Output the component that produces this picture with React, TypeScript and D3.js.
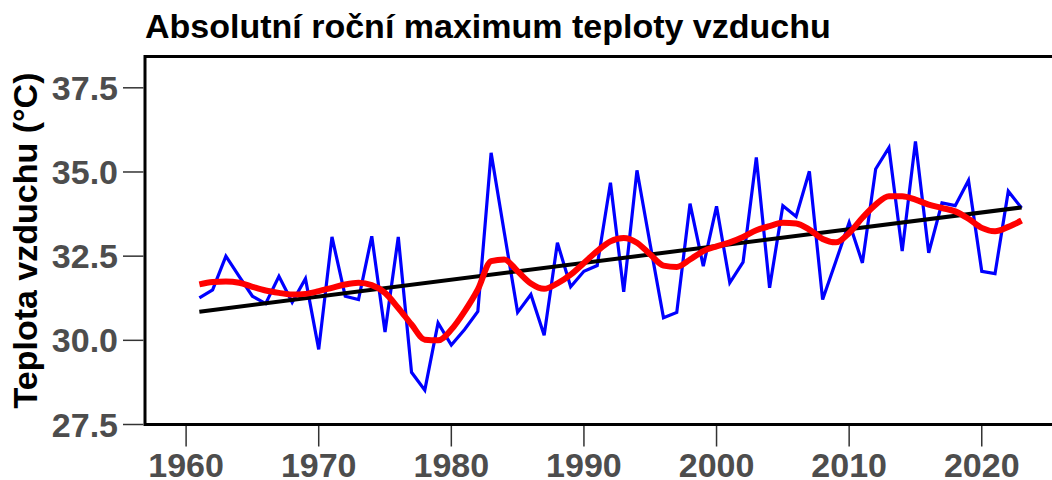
import React, { useEffect, useRef } from 'react';
import * as d3 from 'd3';

// Absolute annual maximum air temperature, 1961-2023
const years: number[] = d3.range(1961, 2024);

const tmax: number[] = [
  31.26, 31.5, 32.5, 31.9, 31.31, 31.09, 31.9, 31.13, 31.83, 29.73,
  33.07, 31.31, 31.21, 33.09, 30.25, 33.07, 29.05, 28.52, 30.52, 29.86,
  30.32, 30.86, 35.57, 33.19, 30.83, 31.36, 30.15, 32.9, 31.59, 32.05,
  32.22, 34.68, 31.44, 35.05, 32.84, 30.67, 30.83, 34.06, 32.2, 33.98,
  31.71, 32.32, 35.43, 31.56, 34.0, 33.68, 35.02, 31.21, 32.35, 33.5,
  32.3, 35.09, 35.72, 32.65, 35.91, 32.6, 34.08, 34.0, 34.75, 32.05,
  31.98, 34.43, 33.93,
];

// smoothed curve
const smooth: number[] = [
  31.66, 31.73, 31.75, 31.71, 31.59, 31.48, 31.41, 31.36, 31.38, 31.46,
  31.56, 31.66, 31.71, 31.64, 31.41, 30.96, 30.47, 30.02, 30.0, 30.32,
  30.86, 31.51, 32.35, 32.4, 32.05, 31.69, 31.53, 31.69, 31.95, 32.3,
  32.65, 32.94, 33.04, 32.9, 32.55, 32.22, 32.18, 32.4, 32.65, 32.79,
  32.91, 33.07, 33.27, 33.39, 33.49, 33.47, 33.29, 33.01, 32.91, 33.19,
  33.64, 34.03, 34.28, 34.28, 34.18, 34.03, 33.93, 33.83, 33.61, 33.34,
  33.24, 33.37, 33.56,
];

const xTicks: number[] = [1960, 1970, 1980, 1990, 2000, 2010, 2020];
const yTicks: number[] = [27.5, 30.0, 32.5, 35.0, 37.5];

const title = 'Absolutní roční maximum teploty vzduchu';
const yLabel = 'Teplota vzduchu (°C)';

const App = () => {
  const svgRef = useRef<SVGSVGElement>(null);
  const width = 1052;
  const height = 480;

  useEffect(() => {
    const svg = d3.select(svgRef.current);
    svg.selectAll('*').remove();

    const font = '"Liberation Sans", Arial, sans-serif';
    const left = 145, right = 1060, top = 56.5, bottom = 424.5;

    const x = d3.scaleLinear().domain([1956.9, 2025.9]).range([left, right]);
    const y = d3.scaleLinear().domain([27.5, 38.43]).range([bottom, top]);

    const pts = years.map((yr, i) => ({ yr, v: tmax[i], s: smooth[i] }));

    // least squares trend
    const mx = d3.mean(years)!;
    const my = d3.mean(tmax)!;
    const slope =
      d3.sum(pts, d => (d.yr - mx) * (d.v - my)) / d3.sum(pts, d => (d.yr - mx) ** 2);
    const trend = (yr: number) => my + slope * (yr - mx);

    // panel box
    svg.append('rect')
      .attr('x', left)
      .attr('y', top)
      .attr('width', right - left)
      .attr('height', bottom - top)
      .attr('fill', 'white')
      .attr('stroke', 'black')
      .attr('stroke-width', 3);

    // ticks + labels
    const tickColor = '#333';
    const labColor = '#4d4d4d';

    svg.append('g').selectAll('line')
      .data(yTicks)
      .enter()
      .append('line')
      .attr('x1', left - 22)
      .attr('x2', left - 1.5)
      .attr('y1', d => y(d))
      .attr('y2', d => y(d))
      .attr('stroke', tickColor)
      .attr('stroke-width', 1.5);

    svg.append('g').selectAll('text')
      .data(yTicks)
      .enter()
      .append('text')
      .attr('x', left - 27)
      .attr('y', d => y(d) + 12)
      .attr('text-anchor', 'end')
      .style('font-family', font)
      .style('font-weight', 'bold')
      .style('font-size', '34px')
      .attr('fill', labColor)
      .text(d => d3.format('.1f')(d));

    svg.append('g').selectAll('line')
      .data(xTicks)
      .enter()
      .append('line')
      .attr('x1', d => x(d))
      .attr('x2', d => x(d))
      .attr('y1', bottom + 1.5)
      .attr('y2', bottom + 22)
      .attr('stroke', tickColor)
      .attr('stroke-width', 1.5);

    svg.append('g').selectAll('text')
      .data(xTicks)
      .enter()
      .append('text')
      .attr('x', d => x(d))
      .attr('y', 477)
      .attr('text-anchor', 'middle')
      .style('font-family', font)
      .style('font-weight', 'bold')
      .style('font-size', '34px')
      .attr('fill', labColor)
      .text(d => String(d));

    // data lines
    const clip = svg.append('g');

    clip.append('path')
      .datum(pts)
      .attr('fill', 'none')
      .attr('stroke', '#0000ff')
      .attr('stroke-width', 3.2)
      .attr('stroke-linejoin', 'miter')
      .attr('d', d3.line<any>().x(d => x(d.yr)).y(d => y(d.v)));

    clip.append('line')
      .attr('x1', x(years[0]))
      .attr('x2', x(years[years.length - 1]))
      .attr('y1', y(trend(years[0])))
      .attr('y2', y(trend(years[years.length - 1])))
      .attr('stroke', 'black')
      .attr('stroke-width', 4);

    clip.append('path')
      .datum(pts)
      .attr('fill', 'none')
      .attr('stroke', '#ff0000')
      .attr('stroke-width', 6)
      .attr('stroke-linejoin', 'round')
      .attr('d', d3.line<any>().x(d => x(d.yr)).y(d => y(d.s)).curve(d3.curveMonotoneX));

    // titles
    svg.append('text')
      .attr('x', 145)
      .attr('y', 38)
      .style('font-family', font)
      .style('font-weight', 'bold')
      .style('font-size', '34px')
      .attr('fill', 'black')
      .text(title);

    svg.append('text')
      .attr('transform', `translate(37, ${(top + bottom) / 2}) rotate(-90)`)
      .attr('text-anchor', 'middle')
      .style('font-family', font)
      .style('font-weight', 'bold')
      .style('font-size', '34px')
      .attr('fill', 'black')
      .text(yLabel);
  }, []);

  return (
    <svg
      ref={svgRef}
      width={width}
      height={height}
      style={{ position: 'absolute', left: 0, top: 0, background: 'white' }}
    />
  );
};

export default App;
